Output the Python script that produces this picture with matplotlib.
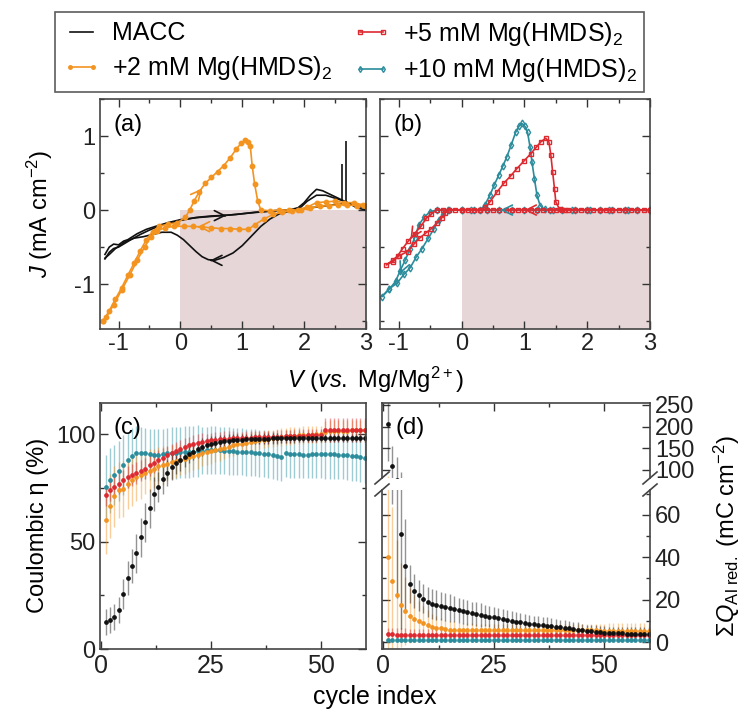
import matplotlib
matplotlib.use('Agg')
import matplotlib.pyplot as plt
from matplotlib.lines import Line2D
from matplotlib.ticker import MultipleLocator
from matplotlib.colors import to_rgba

plt.rcParams['font.family'] = 'Liberation Sans'
plt.rcParams['mathtext.fontset'] = 'custom'
plt.rcParams['mathtext.rm'] = 'Liberation Sans'
plt.rcParams['mathtext.it'] = 'Liberation Sans:italic'
plt.rcParams['font.size'] = 17
plt.rcParams['axes.unicode_minus'] = False

# colours for each electrolyte
c_macc = '#111111'
c_2mM = '#f39320'
c_5mM = '#dc2a30'
c_10mM = '#2b8c9c'

series_labels = ['MACC', '+2 mM Mg(HMDS)$_2$', '+5 mM Mg(HMDS)$_2$', '+10 mM Mg(HMDS)$_2$']

# ---- CV data, panel (a) ----
macc_fwd1_v = [-1.22, -1.15, -1.08, -1.0, -0.92, -0.8, -0.65, -0.5, -0.35, -0.2, 0.0, 0.25, 0.5, 0.75,
               1.0, 1.25, 1.5, 1.75, 1.9, 2.0, 2.1, 2.2, 2.3, 2.45, 2.6, 2.75, 2.85, 3.0]
macc_fwd1_j = [-0.66, -0.57, -0.52, -0.5, -0.46, -0.4, -0.33, -0.27, -0.22, -0.18, -0.14, -0.1, -0.08, -0.07,
               -0.05, -0.03, -0.01, 0.0, 0.03, 0.1, 0.2, 0.28, 0.26, 0.2, 0.14, 0.08, 0.03, 0.0]
macc_fwd2_v = [-1.22, -1.15, -1.08, -1.0, -0.92, -0.85, -0.7, -0.55, -0.4, -0.2, 0.0, 0.3, 0.6, 0.9,
               1.2, 1.5, 1.8, 1.95, 2.05, 2.2, 2.35, 2.5, 2.65, 2.8, 3.0]
macc_fwd2_j = [-0.6, -0.5, -0.46, -0.47, -0.42, -0.4, -0.32, -0.26, -0.22, -0.17, -0.13, -0.1, -0.08, -0.06,
               -0.03, -0.01, 0.0, 0.04, 0.12, 0.2, 0.2, 0.16, 0.12, 0.06, 0.03]
macc_rev_v = [3.0, 2.8, 2.6, 2.4, 2.2, 2.0, 1.8, 1.6, 1.45, 1.3, 1.15, 1.0, 0.85, 0.7, 0.55, 0.45, 0.35,
              0.25, 0.15, 0.05, -0.05, -0.15, -0.3, -0.45, -0.6, -0.75, -0.9, -1.05, -1.15, -1.22]
macc_rev_j = [0.04, 0.07, 0.08, 0.06, 0.04, 0.02, -0.01, -0.05, -0.12, -0.22, -0.35, -0.48, -0.58, -0.64,
              -0.68, -0.67, -0.63, -0.56, -0.48, -0.4, -0.34, -0.3, -0.3, -0.33, -0.36, -0.38, -0.43,
              -0.52, -0.6, -0.65]
spike_v = [2.62, 2.68]
spike_top = [0.62, 0.93]
spike_base = [0.12, 0.1]

mg2_fwd_v = [-1.25, -1.15, -1.05, -0.95, -0.85, -0.75, -0.65, -0.55, -0.45, -0.35, -0.2, -0.05, 0.08,
             0.15, 0.22, 0.3, 0.4, 0.5, 0.6, 0.7, 0.8, 0.9, 0.98, 1.05, 1.1, 1.13, 1.16, 1.2, 1.25,
             1.3, 1.45, 1.6, 1.75, 1.9, 2.05, 2.2, 2.35, 2.5, 2.65, 2.8, 2.95, 3.0]
mg2_fwd_j = [-1.5, -1.36, -1.2, -1.05, -0.88, -0.72, -0.55, -0.4, -0.29, -0.22, -0.19, -0.17, -0.1,
             0.0, 0.12, 0.24, 0.36, 0.44, 0.52, 0.6, 0.7, 0.82, 0.9, 0.95, 0.92, 0.86, 0.6, 0.35, 0.12,
             0.0, -0.01, 0.0, 0.0, 0.0, 0.04, 0.1, 0.11, 0.12, 0.1, 0.1, 0.07, 0.05]
mg2_rev_v = [3.0, 2.85, 2.7, 2.55, 2.4, 2.25, 2.1, 1.95, 1.8, 1.65, 1.5, 1.35, 1.2, 1.1, 0.95, 0.8,
             0.65, 0.5, 0.35, 0.2, 0.05, -0.1, -0.25, -0.38, -0.48, -0.58, -0.7, -0.82, -0.95, -1.08,
             -1.2, -1.25]
mg2_rev_j = [0.05, 0.06, 0.07, 0.07, 0.06, 0.05, 0.03, 0.0, -0.01, -0.03, -0.06, -0.12, -0.2, -0.26,
             -0.26, -0.25, -0.25, -0.24, -0.23, -0.22, -0.22, -0.22, -0.24, -0.28, -0.36, -0.5, -0.68,
             -0.88, -1.08, -1.28, -1.45, -1.5]

# ---- CV data, panel (b) ----
mg10_v = [3.0, 2.8, 2.6, 2.4, 2.2, 2.0, 1.8, 1.6, 1.4, 1.2, 1.0, 0.8, 0.6, 0.4, 0.2, 0.0, -0.2,
          -0.4, -0.5, -0.6, -0.68, -0.75, -0.82, -0.9, -0.98, -1.05, -1.15, -1.27,
          -1.15, -1.03, -0.92, -0.82, -0.72, -0.63, -0.53, -0.44, -0.36, -0.3, -0.22, 0.0, 0.15, 0.3,
          0.37, 0.45, 0.52, 0.59, 0.66, 0.72, 0.79, 0.86, 0.92, 0.96, 1.01, 1.05, 1.09, 1.12, 1.16,
          1.2, 1.25, 1.32, 1.45, 1.75, 2.05, 2.35, 2.65, 3.0]
mg10_j = [0.0, 0.0, 0.0, 0.0, 0.0, 0.0, 0.0, 0.0, 0.0, 0.0, 0.0, 0.0, 0.0, 0.0, 0.0, 0.0, 0.0,
          0.0, -0.02, -0.1, -0.2, -0.38, -0.52, -0.68, -0.82, -0.96, -1.07, -1.17,
          -1.06, -0.99, -0.87, -0.78, -0.63, -0.52, -0.38, -0.25, -0.13, -0.05, 0.0, 0.0, 0.0, 0.0,
          0.07, 0.2, 0.34, 0.47, 0.6, 0.72, 0.88, 1.05, 1.14, 1.17, 1.13, 1.05, 0.85, 0.65, 0.42,
          0.2, 0.06, 0.01, 0.0, 0.0, 0.0, 0.0, 0.0, 0.0]
mg5_v = [3.0, 2.9, 2.8, 2.7, 2.6, 2.5, 2.4, 2.3, 2.2, 2.1, 2.0, 1.9, 1.8, 1.7, 1.6, 1.5, 1.4, 1.3,
         1.2, 1.1, 1.0, 0.9, 0.8, 0.7, 0.6, 0.5, 0.4, 0.3, 0.2, 0.1, 0.0, -0.1, -0.2, -0.3, -0.4,
         -0.48, -0.56, -0.65, -0.75, -0.85, -0.94, -1.02, -1.1, -1.2,
         -1.1, -1.0, -0.86, -0.76, -0.67, -0.57, -0.48, -0.4, -0.32, -0.26, -0.2, 0.0, 0.3,
         0.38, 0.45, 0.56, 0.67, 0.78, 0.88, 0.99, 1.1, 1.19, 1.26, 1.34, 1.39, 1.42, 1.45, 1.48,
         1.5, 1.56, 1.65, 1.8, 2.0, 2.2, 2.4, 2.6, 2.8, 3.0]
mg5_j = [0.0, 0.0, 0.0, 0.0, 0.0, 0.0, 0.0, 0.0, 0.0, 0.0, 0.0, 0.0, 0.0, 0.0, 0.0, 0.0, 0.0, 0.0,
         0.0, 0.0, 0.0, 0.0, 0.0, 0.0, 0.0, 0.0, 0.0, 0.0, 0.0, 0.0, 0.0, 0.0, 0.0, 0.0, 0.0,
         -0.05, -0.11, -0.22, -0.32, -0.42, -0.52, -0.62, -0.68, -0.74,
         -0.7, -0.62, -0.56, -0.46, -0.38, -0.31, -0.25, -0.18, -0.11, -0.04, 0.0, 0.0, 0.0,
         0.04, 0.11, 0.24, 0.36, 0.46, 0.56, 0.66, 0.76, 0.85, 0.92, 0.97, 0.92, 0.75, 0.51, 0.28,
         0.11, 0.01, 0.0, 0.0, 0.0, 0.0, 0.0, 0.0, 0.0, 0.0]

# ---- cycling data, panels (c) and (d) ----
cycles = list(range(1, 61))

eta_macc = [12.4, 13.5, 15.0, 18.2, 25.5, 33.0, 38.5, 44.5, 52.0, 59.0,
            65.5, 72.0, 75.5, 79.0, 82.0, 84.5, 86.5, 88.0, 89.5, 90.8,
            91.9, 93.0, 94.0, 94.8, 95.5, 96.0, 96.4, 96.8, 97.0, 97.2,
            97.4, 97.5, 97.6, 97.7, 97.8, 97.8, 97.9, 97.9, 98.0, 98.0,
            98.0, 98.1, 98.1, 98.1, 98.2, 98.2, 98.2, 98.2, 98.3, 98.3,
            98.3, 98.3, 98.3, 98.3, 98.3, 98.3, 98.3, 98.3, 98.3, 98.3]
eta_macc_err = [6, 6, 6, 6, 7, 8, 8, 9, 9, 9,
                9, 8, 7, 7, 6, 6, 5, 5, 5, 4,
                4, 4, 4, 3.5, 3.5, 3, 3, 3, 3, 3,
                2.5, 2.5, 2.5, 2.5, 2.5, 2.5, 2.5, 2.5, 2.5, 2.5,
                2, 2, 2, 2, 2, 2, 2, 2, 2, 2,
                2, 2, 2, 2, 2, 2, 2, 2, 2, 2]
eta_2mM = [60.0, 66.5, 71.0, 74.0, 74.5, 77.0, 78.5, 80.0, 81.0, 82.0,
           83.0, 84.0, 85.0, 85.5, 86.2, 87.0, 87.5, 88.0, 88.6, 89.2,
           89.8, 90.4, 91.0, 91.5, 92.0, 92.5, 93.0, 93.6, 94.2, 94.8,
           95.2, 95.6, 96.0, 96.4, 96.8, 97.2, 97.5, 97.8, 98.1, 98.4,
           98.7, 98.9, 99.1, 99.3, 99.5, 99.6, 99.7, 99.8, 99.9, 100.0,
           101.2, 101.4, 101.5, 101.6, 101.7, 101.7, 101.8, 101.8, 101.8, 101.8]
eta_2mM_err = [16, 15, 14, 13, 13, 12, 12, 11, 11, 10,
               10, 9, 9, 9, 8, 8, 8, 7, 7, 7,
               6.5, 6.5, 6, 6, 6, 5.5, 5.5, 5, 5, 5,
               5, 4.5, 4.5, 4.5, 4.5, 4, 4, 4, 4, 4,
               4, 4, 4, 4, 4, 4, 4, 4, 4, 4,
               5, 5, 5, 5, 5, 5, 5, 5, 5, 5]
eta_5mM = [71.5, 74.0, 75.5, 77.0, 78.5, 80.0, 81.0, 82.0, 83.0, 84.0,
           85.5, 86.8, 88.0, 89.0, 90.2, 91.2, 92.3, 93.3, 94.2, 94.9,
           95.4, 95.9, 96.4, 96.8, 97.2, 97.4, 97.6, 97.8, 97.9, 98.0,
           98.1, 98.2, 98.3, 98.4, 98.5, 98.5, 98.6, 98.6, 98.7, 98.8,
           98.9, 99.0, 99.1, 99.2, 99.3, 99.3, 99.4, 99.5, 99.5, 99.6,
           101.8, 101.9, 101.9, 102.0, 102.0, 102.0, 102.0, 102.0, 102.0, 102.0]
eta_5mM_err = [5, 5, 5, 5, 5, 5, 5, 5, 5, 5,
               5, 5, 4.5, 4.5, 4.5, 4, 4, 4, 4, 4,
               4, 4, 4, 3.5, 3.5, 3.5, 3.5, 3.5, 3.5, 3.5,
               3, 3, 3, 3, 3, 3, 3, 3, 3, 3,
               3, 3, 3, 3, 3, 3, 3, 3, 3, 3,
               5.5, 5.5, 5.5, 5.5, 5.5, 5.5, 5.5, 5.5, 5.5, 5.5]
eta_10mM = [75.5, 78.5, 81.0, 83.0, 85.5, 88.0, 90.0, 91.0, 91.3, 91.0,
            90.6, 90.2, 90.4, 90.6, 91.0, 91.2, 91.3, 91.5, 91.6, 91.8,
            91.9, 92.1, 92.3, 92.4, 92.6, 92.6, 92.5, 92.3, 92.1, 92.0,
            91.9, 91.8, 91.6, 91.5, 91.3, 91.1, 90.9, 90.6, 90.2, 89.6,
            89.3, 91.0, 90.8, 90.7, 90.6, 90.5, 90.5, 90.6, 90.7, 90.8,
            90.8, 90.7, 90.6, 90.5, 90.4, 90.2, 89.9, 89.6, 89.2, 88.8]
eta_10mM_err = [15, 15, 14, 14, 14, 13, 13, 13, 12, 12,
                12, 12, 12, 12, 12, 12, 12, 12, 12, 12,
                12, 12, 11, 11, 11, 11, 11, 11, 11, 11,
                11, 11, 11, 11, 11, 11, 11, 11, 11, 11,
                11, 11, 11, 11, 11, 11, 11, 11, 11, 11,
                11.5, 11.5, 11.5, 11.5, 11.5, 11.5, 11.5, 11.5, 11.5, 11.5]

q_macc = [205, 110, 76, 51, 36, 27.5, 24, 22, 20.5, 19,
          18, 17.5, 17, 16.5, 16, 15.5, 15, 14.5, 14, 13.6,
          13.2, 12.8, 12.4, 12, 11.6, 11.2, 10.8, 10.4, 10, 9.6,
          9.3, 9, 8.7, 8.4, 8.1, 7.8, 7.6, 7.4, 7.2, 7.0,
          6.7, 6.4, 6.1, 5.8, 5.5, 5.2, 5.0, 4.8, 4.6, 4.4,
          4.3, 4.2, 4.1, 4.1, 4.0, 4.0, 4.0, 3.9, 3.9, 3.9]
q_macc_err = [85, 45, 55, 45, 22, 9, 8, 7.5, 7, 7,
              7, 7, 6.5, 6.5, 6.5, 6, 6, 6, 6, 5.5,
              5.5, 5.5, 5, 5, 5, 5, 5, 4.5, 4.5, 4.5,
              4.5, 4, 4, 4, 4, 4, 4, 4, 3.5, 3.5,
              3.5, 3.5, 3.5, 3.5, 3, 3, 3, 3, 3, 3,
              3, 3, 3, 3, 3, 3, 3, 3, 3, 3]
q_2mM = [40, 29, 22, 17.5, 14.5, 12.5, 11, 9.8, 8.8, 8,
         7.3, 6.8, 6.4, 6.1, 5.9, 5.8, 5.7, 5.7, 5.6, 5.6,
         5.6, 5.6, 5.6, 5.6, 5.6, 5.6, 5.6, 5.6, 5.6, 5.6,
         5.5, 5.5, 5.5, 5.5, 5.5, 5.5, 5.5, 5.5, 5.5, 5.5,
         5.5, 5.5, 5.5, 5.5, 5.5, 5.5, 5.5, 5.5, 5.4, 5.4,
         5.4, 5.4, 5.4, 5.4, 5.4, 5.4, 5.4, 5.4, 5.4, 5.4]
q_2mM_err = [45, 35, 26, 20, 16, 13, 11, 9.5, 8, 7,
             6, 5.5, 5, 4.5, 4, 4, 3.5, 3.5, 3.5, 3.5,
             3, 3, 3, 3, 3, 3, 3, 3, 3, 3,
             3, 3, 3, 3, 3, 3, 3, 3, 3, 3,
             3, 3, 3, 3, 3, 3, 3, 3, 3, 3,
             3.5, 3.5, 3.5, 3.5, 3.5, 3.5, 3.5, 3.5, 3.5, 3.5]
q_5mM = [3.8, 3.6, 3.5, 3.4, 3.4, 3.3, 3.3, 3.3, 3.3, 3.2,
         3.2, 3.2, 3.2, 3.2, 3.2, 3.2, 3.2, 3.2, 3.2, 3.2,
         3.2, 3.2, 3.2, 3.2, 3.2, 3.2, 3.2, 3.2, 3.2, 3.2,
         3.2, 3.2, 3.2, 3.2, 3.2, 3.2, 3.2, 3.2, 3.2, 3.2,
         3.2, 3.2, 3.2, 3.2, 3.2, 3.2, 3.2, 3.2, 3.2, 3.2,
         3.3, 3.3, 3.3, 3.3, 3.3, 3.3, 3.3, 3.3, 3.3, 3.3]
q_5mM_err = [3.0] * 60
q_10mM = [1.0] * 60
q_10mM_err = [0.8] * 60

# ---- layout (pixel boxes: left, top, right, bottom) ----
W, H = 749, 715


def box(l, t, r, b):
    return [l / W, 1 - b / H, (r - l) / W, (b - t) / H]


def px(x, y):
    return x / W, 1 - y / H


def style_axes(ax, xmaj, xmin, ymaj, ymin):
    ax.xaxis.set_major_locator(MultipleLocator(xmaj))
    ax.xaxis.set_minor_locator(MultipleLocator(xmin))
    ax.yaxis.set_major_locator(MultipleLocator(ymaj))
    ax.yaxis.set_minor_locator(MultipleLocator(ymin))
    ax.tick_params(which='both', direction='in', top=True, right=True, width=1.0,
                   color='#333333', labelsize=17, labelcolor='#222222')
    ax.tick_params(which='major', length=5.5)
    ax.tick_params(which='minor', length=3)
    for s in ax.spines.values():
        s.set_color('#444444')
        s.set_linewidth(1.2)


def chevron(ax, v, j, dv, dj, color):
    ax.annotate('', xy=(v + dv, j + dj), xytext=(v, j),
                arrowprops=dict(arrowstyle='->', color=color, lw=1.2,
                                mutation_scale=18, shrinkA=0, shrinkB=0))


fig = plt.figure(figsize=(W / 100, H / 100), dpi=100)

ax_a = fig.add_axes(box(100, 99, 366, 328.5))
ax_b = fig.add_axes(box(380, 99, 650, 328.5))
ax_c = fig.add_axes(box(100, 403, 366, 649))
ax_dt = fig.add_axes(box(382, 403, 650, 478))
ax_db = fig.add_axes(box(382, 490, 650, 649))

v_lim = (-1.3, 3.0)
j_lim = (-1.6, 1.5)
shade_v = [0.0, 3.0]

for ax in (ax_a, ax_b):
    ax.fill_between(shade_v, j_lim[0], 0.0, color='#e6d6d8', lw=0, zorder=0)
    ax.set_xlim(*v_lim)
    ax.set_ylim(*j_lim)
    style_axes(ax, 1, 0.5, 1, 0.5)

# panel (a)
ax_a.plot(macc_fwd1_v, macc_fwd1_j, color=c_macc, lw=1.2)
ax_a.plot(macc_fwd2_v, macc_fwd2_j, color=c_macc, lw=1.2)
ax_a.plot(macc_rev_v, macc_rev_j, color=c_macc, lw=1.2)
ax_a.vlines(spike_v, spike_base, spike_top, color=c_macc, lw=1.2)
ax_a.plot(mg2_fwd_v, mg2_fwd_j, color=c_2mM, lw=1.2, marker='o', ms=3.2)
ax_a.plot(mg2_rev_v, mg2_rev_j, color=c_2mM, lw=1.2, marker='o', ms=3.2)
chevron(ax_a, 0.72, -0.075, 0.02, 0.0, c_macc)
chevron(ax_a, 0.5, -0.68, -0.02, 0.0, c_macc)
chevron(ax_a, 0.33, 0.27, 0.02, 0.02, c_2mM)
chevron(ax_a, 0.3, -0.225, -0.02, 0.0, c_2mM)
ax_a.text(0.05, 0.885, '(a)', transform=ax_a.transAxes, fontsize=17, va='center')

# panel (b)
ax_b.plot(mg10_v, mg10_j, color=c_10mM, lw=1.2, marker='d', ms=3.5, mfc='none', mew=1.0)
ax_b.plot(mg5_v, mg5_j, color=c_5mM, lw=1.2, marker='s', ms=3.2, mfc='none', mew=1.0)
chevron(ax_b, 0.64, 0.0, -0.02, 0.0, c_10mM)
chevron(ax_b, 1.02, 0.0, -0.02, 0.0, c_5mM)
chevron(ax_b, -0.8, -0.37, -0.015, -0.02, c_5mM)
chevron(ax_b, -0.97, -0.84, -0.01, -0.02, c_10mM)
ax_b.text(0.05, 0.885, '(b)', transform=ax_b.transAxes, fontsize=17, va='center')
ax_b.tick_params(labelleft=False)

# panel (c)
cyc_lim = (-0.3, 60.3)
eta_sets = [(eta_10mM, eta_10mM_err, c_10mM), (eta_2mM, eta_2mM_err, c_2mM),
            (eta_5mM, eta_5mM_err, c_5mM), (eta_macc, eta_macc_err, c_macc)]
for vals, errs, col in eta_sets:
    ax_c.errorbar(cycles, vals, yerr=errs, fmt='o', ms=2.4, color=col,
                  ecolor=to_rgba(col, 0.45), elinewidth=1.0, capsize=0)
ax_c.set_xlim(*cyc_lim)
ax_c.set_ylim(0, 114.5)
style_axes(ax_c, 25, 12.5, 50, 25)
ax_c.tick_params(axis='x', labelsize=18)
ax_c.text(0.05, 0.9, '(c)', transform=ax_c.transAxes, fontsize=17, va='center')

# panel (d), split y axis
q_sets = [(q_10mM, q_10mM_err, c_10mM), (q_2mM, q_2mM_err, c_2mM),
          (q_5mM, q_5mM_err, c_5mM), (q_macc, q_macc_err, c_macc)]
for ax in (ax_dt, ax_db):
    for vals, errs, col in q_sets:
        ax.errorbar(cycles, vals, yerr=errs, fmt='o', ms=2.4, color=col,
                    ecolor=to_rgba(col, 0.45), elinewidth=1.0, capsize=0)
    ax.set_xlim(*cyc_lim)
ax_dt.set_ylim(81.5, 254.6)
ax_db.set_ylim(-3.3, 71.8)
style_axes(ax_dt, 25, 12.5, 50, 50)
style_axes(ax_db, 25, 12.5, 20, 10)
ax_dt.spines['bottom'].set_visible(False)
ax_db.spines['top'].set_visible(False)
ax_dt.tick_params(which='both', bottom=False, labelbottom=False, labelleft=False, labelright=True)
ax_db.tick_params(which='both', top=False, labelleft=False, labelright=True)
ax_db.tick_params(axis='x', labelsize=18)
ax_dt.text(0.05, 0.67, '(d)', transform=ax_dt.transAxes, fontsize=17, va='center')

# break marks on the split axis
for sx in (382, 650):
    for sy in (478, 490):
        x0, y0 = px(sx - 7, sy + 6)
        x1, y1 = px(sx + 7, sy - 6)
        fig.add_artist(Line2D([x0, x1], [y0, y1], transform=fig.transFigure,
                              color='#444444', lw=1.2))

# axis labels
fig.text(*px(375, 380), '$V$ ($vs.$ Mg/Mg$^{2+}$)', ha='center', va='center', fontsize=17)
fig.text(*px(375, 697), 'cycle index', ha='center', va='center', fontsize=18)
fig.text(*px(40, 214), '$J$ (mA cm$^{-2}$)', ha='center', va='center', rotation=90, fontsize=17)
fig.text(*px(38, 525), 'Coulombic η (%)', ha='center', va='center', rotation=90, fontsize=17)
fig.text(*px(727, 536), 'Σ$Q_{\\mathrm{Al\\ red.}}$ (mC cm$^{-2}$)', ha='center', va='center',
         rotation=90, fontsize=17)

# legend
handles = [Line2D([], [], color=c_macc, lw=1.2),
           Line2D([], [], color=c_2mM, lw=1.2, marker='o', ms=2.5),
           Line2D([], [], color=c_5mM, lw=1.2, marker='s', ms=2.5, mfc='none'),
           Line2D([], [], color=c_10mM, lw=1.2, marker='d', ms=3, mfc='none')]
leg = fig.legend(handles, series_labels, loc='upper left', bbox_to_anchor=px(55, 12),
                 ncol=2, numpoints=2, fontsize=18, frameon=True, fancybox=False,
                 edgecolor='#333333', borderaxespad=0, handlelength=1.5,
                 handletextpad=0.5, columnspacing=0.8, labelspacing=0.35,
                 borderpad=0.3)
leg.get_frame().set_linewidth(1.2)

fig.savefig('out.png', dpi=100, facecolor='white')
